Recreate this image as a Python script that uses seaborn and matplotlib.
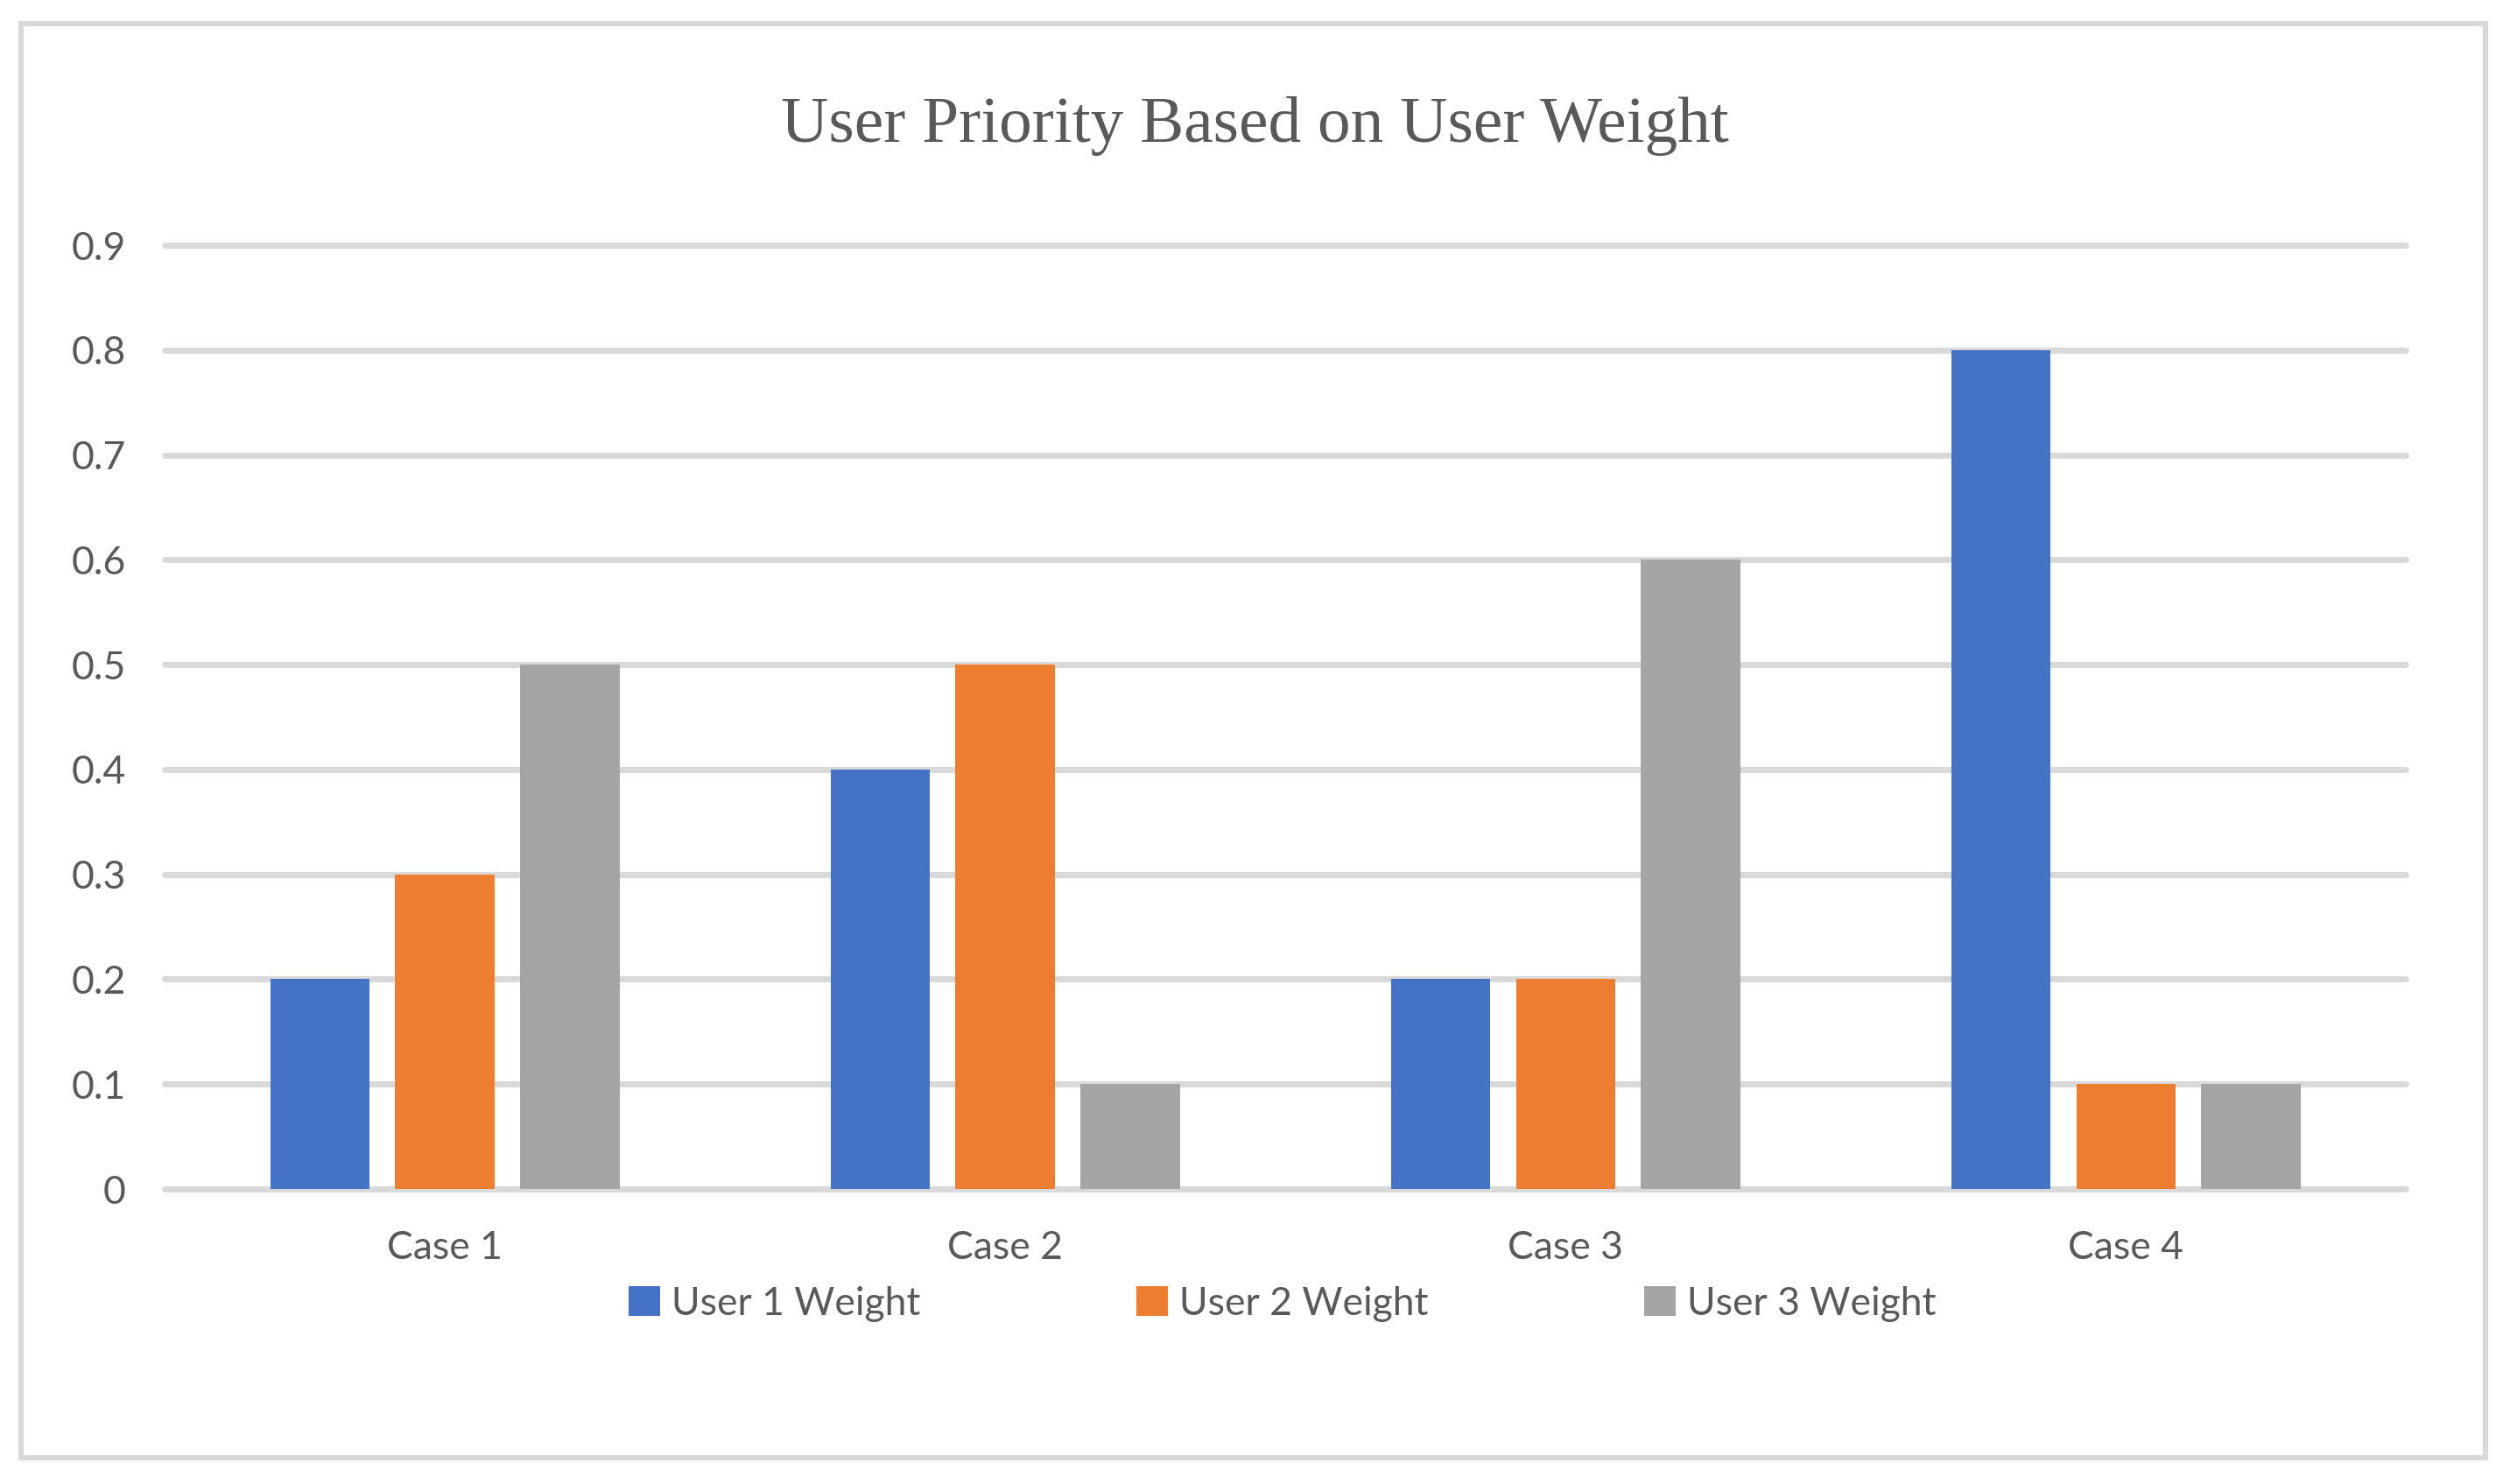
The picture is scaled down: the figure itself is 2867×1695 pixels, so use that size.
import pandas as pd
import seaborn as sns
import matplotlib.pyplot as plt
from matplotlib.patches import Rectangle
from matplotlib.ticker import FuncFormatter

# Dati
cases = ['Case 1', 'Case 2', 'Case 3', 'Case 4']
users = ['User 1 Weight', 'User 2 Weight', 'User 3 Weight']
user1_weight = [0.2, 0.4, 0.2, 0.8]
user2_weight = [0.3, 0.5, 0.2, 0.1]
user3_weight = [0.5, 0.1, 0.6, 0.1]
y_ticks = [0, 0.1, 0.2, 0.3, 0.4, 0.5, 0.6, 0.7, 0.8, 0.9]

colors = ['#4472C4', '#ED7D31', '#A5A5A5']
text_color = '#595959'
grid_color = '#D9D9D9'

# Tabella in formato lungo per seaborn
rows = []
for user, values in zip(users, [user1_weight, user2_weight, user3_weight]):
    for case, v in zip(cases, values):
        rows.append({'case': case, 'user': user, 'weight': v})
df = pd.DataFrame(rows)

sns.set_theme(style='white')
plt.rcParams['font.family'] = ['Lato', 'DejaVu Sans']

fig = plt.figure(figsize=(14.335, 8.475), dpi=200)
ax = fig.add_axes([0.0656, 0.1988, 0.893, 0.636])

sns.barplot(data=df, x='case', y='weight', hue='user', palette=colors,
            width=0.669, gap=0.206, saturation=1, errorbar=None, ax=ax,
            linewidth=0, zorder=3)

ax.set_ylim(0, 0.9)
ax.set_xlim(-0.5, 3.5)
ax.set_yticks(y_ticks)
ax.yaxis.set_major_formatter(FuncFormatter(lambda v, p: f'{v:g}'))
ax.set_xlabel('')
ax.set_ylabel('')
for s in ax.spines.values():
    s.set_visible(False)

ax.yaxis.grid(True, color=grid_color, linewidth=2.5, zorder=0)
ax.set_axisbelow(True)
for line in ax.get_ygridlines():
    line.set_clip_on(False)

ax.tick_params(axis='both', length=0, labelsize=16, labelcolor=text_color)
ax.tick_params(axis='x', pad=17)
ax.tick_params(axis='y', pad=16)

# Legenda sotto il grafico
handles, labels = ax.get_legend_handles_labels()
ax.legend_.remove()
fig.legend(handles, labels, loc='center', bbox_to_anchor=(0.511, 0.1215),
           ncol=3, frameon=False, fontsize=16, labelcolor=text_color,
           handlelength=0.8, handleheight=0.8, handletextpad=0.3,
           columnspacing=5.55)

# Titolo
fig.text(0.5, 0.9044, 'User Priority Based on User Weight', ha='center',
         va='baseline', fontsize=27.1, color=text_color,
         family=['Liberation Serif', 'DejaVu Serif'])

# Bordo esterno
fig.patches.append(Rectangle((24 / 2867, 1 - 1665 / 1695), 2815 / 2867,
                             1638 / 1695, transform=fig.transFigure,
                             fill=False, edgecolor=grid_color, linewidth=2.2))

fig.savefig('out.png', dpi=200)
